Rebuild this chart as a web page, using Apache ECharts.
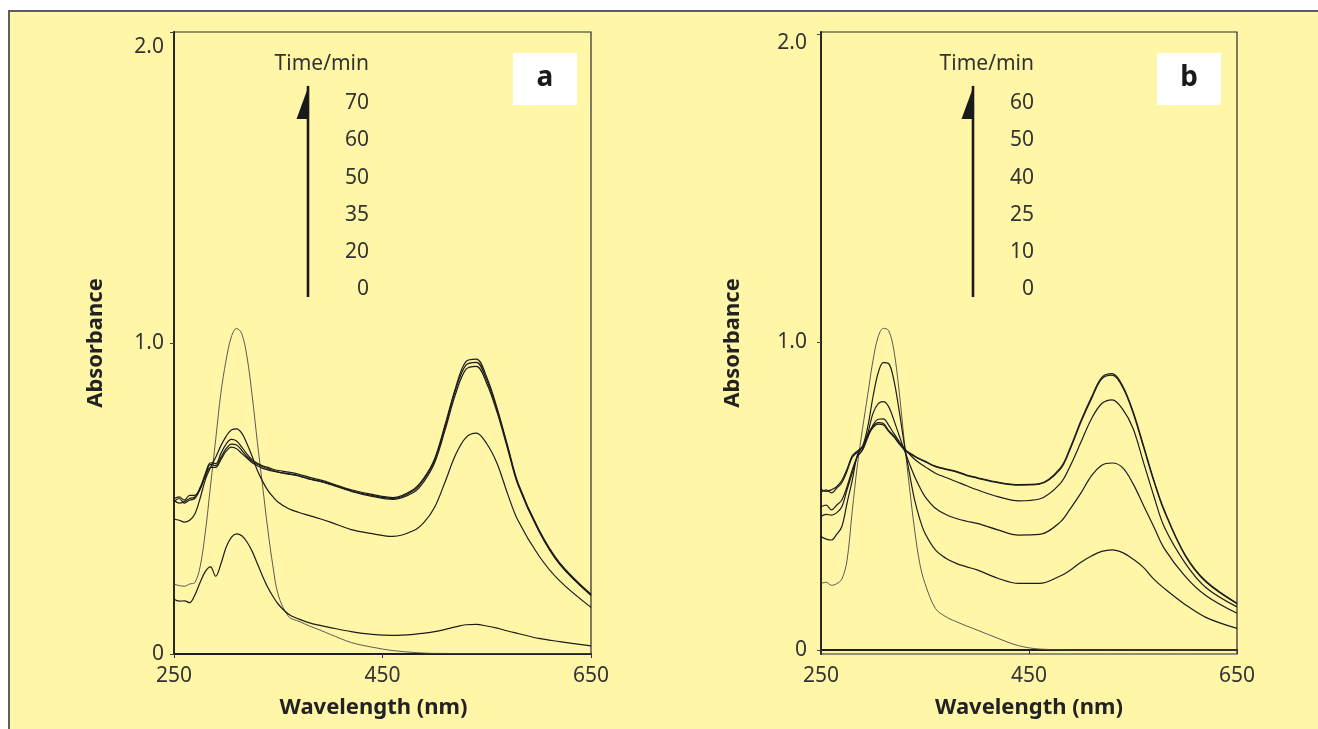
<!DOCTYPE html>
<html>
<head>
<meta charset="utf-8">
<script src="https://cdn.jsdelivr.net/npm/echarts@6/dist/echarts.min.js"></script>
<style>
  html, body { margin: 0; padding: 0; background: #ffffff; width: 1318px; height: 729px; overflow: hidden; }
  #bg { position: absolute; left: 8px; top: 10px; width: 1310px; height: 719px; background: #FFF6A8;
        border-left: 2px solid #5e5e5e; border-top: 2px solid #5e5e5e; box-sizing: border-box; }
  #chart { position: absolute; left: 0; top: 0; width: 1318px; height: 729px; }
</style>
</head>
<body>
<div id="bg"></div>
<div id="chart"></div>
<script>
// ---------------- DATA ----------------
const wavelengths = [250,255,260,265,270,275,280,285,290,295,300,305,310,315,320,325,330,335,340,345,350,
  360,370,380,390,400,420,440,460,480,490,500,510,520,530,540,550,560,570,580,600,620,650];

const xTicks = [250, 450, 650];
const yTicks = [0, 1, 2];
const yTickLabels = ['0', '1.0', '2.0'];

// Panel a: times (min)
const timesA = ['0', '20', '35', '50', '60', '70'];
const a_t0 = [0.225,0.22,0.218,0.225,0.23,0.28,0.39,0.54,0.69,0.84,0.945,1.02,1.047,1.03,0.956,0.83,0.68,0.54,0.40,0.28,0.19,
  0.12,0.105,0.09,0.077,0.063,0.037,0.022,0.011,0.005,0.003,0.002,0.002,0.001,0.001,0.001,0.001,0.001,0.001,0.001,0.001,0.001,0.001];
const a_t20 = [0.176,0.17,0.171,0.165,0.19,0.23,0.265,0.28,0.25,0.29,0.343,0.375,0.386,0.38,0.36,0.33,0.29,0.25,0.214,0.185,0.16,
  0.128,0.112,0.10,0.092,0.085,0.072,0.063,0.06,0.063,0.067,0.072,0.079,0.087,0.094,0.095,0.09,0.083,0.074,0.066,0.05,0.04,0.026];
const a_t35 = [0.434,0.43,0.424,0.43,0.45,0.50,0.56,0.60,0.633,0.67,0.70,0.72,0.724,0.71,0.676,0.635,0.59,0.555,0.526,0.505,0.488,
  0.467,0.455,0.445,0.435,0.424,0.40,0.387,0.378,0.397,0.424,0.472,0.553,0.64,0.696,0.71,0.676,0.612,0.515,0.429,0.316,0.235,0.15];
const a_t50 = [0.49,0.50,0.485,0.495,0.50,0.53,0.57,0.60,0.60,0.625,0.652,0.665,0.66,0.645,0.63,0.615,0.605,0.597,0.592,0.588,0.585,
  0.578,0.572,0.562,0.555,0.545,0.523,0.507,0.497,0.52,0.556,0.615,0.72,0.835,0.915,0.925,0.87,0.776,0.66,0.543,0.395,0.288,0.188];
const a_t60 = [0.495,0.485,0.49,0.50,0.505,0.53,0.574,0.61,0.606,0.633,0.66,0.675,0.672,0.655,0.635,0.62,0.61,0.602,0.596,0.59,0.585,
  0.58,0.574,0.563,0.556,0.547,0.525,0.51,0.50,0.526,0.563,0.623,0.73,0.848,0.929,0.938,0.88,0.784,0.666,0.547,0.397,0.29,0.19];
const a_t70 = [0.50,0.505,0.495,0.51,0.51,0.535,0.58,0.615,0.612,0.645,0.675,0.69,0.685,0.665,0.643,0.625,0.613,0.605,0.60,0.594,0.59,
  0.585,0.578,0.568,0.56,0.55,0.528,0.513,0.503,0.53,0.567,0.628,0.737,0.855,0.94,0.948,0.89,0.79,0.67,0.55,0.40,0.293,0.192];

// Panel b: times (min)
const timesB = ['0', '10', '25', '40', '50', '60'];
const b_t0 = [0.216,0.22,0.21,0.215,0.23,0.29,0.45,0.60,0.72,0.83,0.94,1.017,1.044,1.037,0.974,0.844,0.68,0.53,0.39,0.28,0.216,
  0.135,0.108,0.092,0.078,0.065,0.038,0.014,0.003,0.001,0,0,0,0,0,0,0,0,0,0,0,0,0];
const b_t10 = [0.368,0.36,0.357,0.375,0.40,0.476,0.55,0.633,0.66,0.725,0.822,0.90,0.933,0.93,0.877,0.78,0.67,0.574,0.487,0.425,0.379,
  0.325,0.298,0.281,0.27,0.26,0.233,0.216,0.216,0.24,0.26,0.285,0.305,0.32,0.325,0.316,0.295,0.268,0.23,0.20,0.148,0.106,0.07];
const b_t25 = [0.433,0.44,0.438,0.445,0.465,0.52,0.574,0.628,0.65,0.703,0.768,0.80,0.806,0.79,0.747,0.698,0.65,0.605,0.563,0.528,0.498,
  0.46,0.44,0.427,0.418,0.411,0.39,0.373,0.375,0.415,0.46,0.51,0.565,0.60,0.607,0.592,0.54,0.47,0.40,0.33,0.24,0.177,0.119];
const b_t40 = [0.465,0.47,0.455,0.47,0.487,0.53,0.584,0.628,0.65,0.69,0.73,0.749,0.75,0.73,0.703,0.678,0.655,0.636,0.619,0.606,0.595,
  0.574,0.56,0.547,0.533,0.52,0.498,0.484,0.49,0.54,0.60,0.675,0.75,0.80,0.812,0.782,0.72,0.61,0.50,0.40,0.283,0.203,0.14];
const b_t50 = [0.512,0.52,0.51,0.525,0.543,0.58,0.625,0.642,0.658,0.695,0.722,0.733,0.73,0.71,0.692,0.67,0.65,0.638,0.628,0.619,0.611,
  0.595,0.586,0.578,0.566,0.558,0.543,0.535,0.538,0.586,0.655,0.74,0.815,0.88,0.892,0.853,0.77,0.66,0.548,0.451,0.307,0.221,0.15];
const b_t60 = [0.522,0.515,0.52,0.53,0.55,0.587,0.63,0.646,0.662,0.70,0.727,0.738,0.735,0.713,0.695,0.672,0.652,0.64,0.63,0.621,0.613,
  0.597,0.588,0.58,0.568,0.56,0.545,0.537,0.54,0.59,0.66,0.745,0.82,0.885,0.897,0.858,0.775,0.665,0.552,0.455,0.31,0.224,0.152];

// ---------------- CHART ----------------
const FONT = "'Noto Sans', 'DejaVu Sans', sans-serif";
const TXT = '#333333';

function pairs(vals) { return wavelengths.map((w, i) => [w, vals[i]]); }

function mkSeries(name, vals, gi, faint) {
  return {
    name: name, type: 'line', xAxisIndex: gi, yAxisIndex: gi,
    data: pairs(vals), showSymbol: false, smooth: 0.35,
    lineStyle: { color: faint ? '#484848' : '#1c1c1c', width: faint ? 0.9 : 1.2 },
    silent: true
  };
}

function xAxisCfg(gi, shiftLeft) {
  return {
    gridIndex: gi, type: 'value', min: 250, max: 650,
    name: 'Wavelength (nm)', nameLocation: 'middle', nameGap: 43,
    nameTextStyle: { fontFamily: FONT, fontWeight: 'bold', fontSize: 22, color: '#222', padding: [0, shiftLeft, 0, 0] },
    axisLine: { lineStyle: { color: '#1e1e1e', width: 1.8 } },
    axisTick: { show: true, inside: false, length: 4, customValues: xTicks, lineStyle: { color: '#333', width: 1 } },
    axisLabel: { customValues: xTicks, margin: 12, fontFamily: FONT, fontSize: 21, color: TXT },
    splitLine: { show: false }
  };
}

function yAxisCfg(gi, min, max, margin, nameGap, topPad) {
  return {
    gridIndex: gi, type: 'value', min: min, max: max,
    name: 'Absorbance', nameLocation: 'middle', nameGap: nameGap, nameRotate: 90,
    nameTextStyle: { fontFamily: FONT, fontWeight: 'bold', fontSize: 22, color: '#222' },
    axisLine: { lineStyle: { color: '#1e1e1e', width: 1.8 } },
    axisTick: { show: true, inside: false, length: 4, customValues: yTicks, lineStyle: { color: '#444', width: 1 } },
    axisLabel: {
      customValues: yTicks, margin: margin, fontFamily: FONT, fontSize: 21, color: TXT,
      formatter: function (v) {
        const i = yTicks.indexOf(Math.round(v));
        const s = yTickLabels[i];
        return Math.round(v) === 2 ? '{top|' + s + '}' : s;
      },
      rich: { top: { fontFamily: FONT, fontSize: 21, color: TXT, padding: [topPad, 0, 0, 0] } }
    },
    splitLine: { show: false }
  };
}

function legendGraphics(lineX, numRight, times, letter, boxX) {
  const els = [];
  els.push({ type: 'text', x: numRight, y: 64, style: { text: 'Time/min', font: '21px ' + FONT, fill: TXT, align: 'right', verticalAlign: 'middle' } });
  els.push({ type: 'line', shape: { x1: lineX, y1: 86, x2: lineX, y2: 297 }, style: { stroke: '#1a1a1a', lineWidth: 2.6 } });
  els.push({ type: 'polygon', shape: { points: [[lineX + 1, 85], [lineX - 11.5, 119], [lineX + 1, 119]] }, style: { fill: '#1a1a1a' } });
  const ys = [289, 252, 215, 178, 140, 103];
  times.forEach((t, i) => {
    els.push({ type: 'text', x: numRight, y: ys[i], style: { text: t, font: '21px ' + FONT, fill: TXT, align: 'right', verticalAlign: 'middle' } });
  });
  els.push({ type: 'rect', shape: { x: boxX, y: 53, width: 64, height: 52 }, style: { fill: '#ffffff' } });
  els.push({ type: 'text', x: boxX + 32, y: 78, style: { text: letter, font: 'bold 28px ' + FONT, fill: '#1a1a1a', align: 'center', verticalAlign: 'middle' } });
  return els;
}

const series = [];
const aSets = [a_t0, a_t20, a_t35, a_t50, a_t60, a_t70];
aSets.forEach((v, i) => series.push(mkSeries('a ' + timesA[i] + ' min', v, 0, i === 0)));
const bSets = [b_t0, b_t10, b_t25, b_t40, b_t50, b_t60];
bSets.forEach((v, i) => series.push(mkSeries('b ' + timesB[i] + ' min', v, 1, i === 0)));

const chart = echarts.init(document.getElementById('chart'), null, { renderer: 'canvas' });
chart.setOption({
  animation: false,
  backgroundColor: 'transparent',
  grid: [
    { left: 174, top: 32, width: 417, height: 622, show: true, borderColor: '#2a2a2a', borderWidth: 1.2, backgroundColor: 'transparent' },
    { left: 821, top: 32, width: 416, height: 622, show: true, borderColor: '#2a2a2a', borderWidth: 1.2, backgroundColor: 'transparent' }
  ],
  xAxis: [xAxisCfg(0, 18), xAxisCfg(1, 0)],
  yAxis: [yAxisCfg(0, 0, 2, 10, 67, 30), yAxisCfg(1, -0.013, 2.006, 14, 77, 18)],
  series: series,
  graphic: legendGraphics(308, 369, timesA, 'a', 513).concat(legendGraphics(973, 1034, timesB, 'b', 1157))
});
</script>
</body>
</html>
